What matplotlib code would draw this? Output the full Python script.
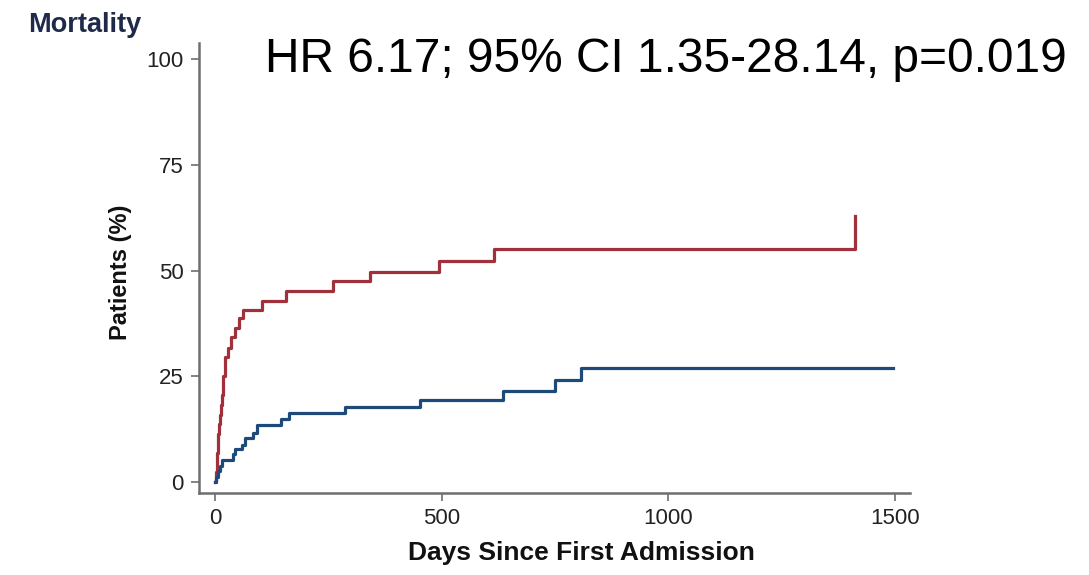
import matplotlib
matplotlib.use("Agg")
from matplotlib import pyplot as plt

# 数据（从图上读取的阶梯点）
red_days = [0, 2, 4, 5, 7, 8, 10, 12, 14, 16, 19, 22, 28, 35, 44, 53, 61, 103, 156, 261, 342, 495, 616, 1412]
red_pct = [0, 2.3, 4.5, 6.8, 9.1, 11.4, 13.6, 15.9, 18.2, 20.5, 25.0, 29.6, 31.8, 34.3, 36.4, 38.8, 40.7, 42.9, 45.1, 47.5, 49.7, 52.2, 55.0, 63.0]
red_end = 1412

blue_days = [0, 3, 8, 12, 15, 39, 44, 59, 66, 85, 92, 145, 163, 287, 452, 635, 749, 807]
blue_pct = [0, 1.3, 2.6, 3.9, 5.2, 6.6, 7.8, 8.7, 10.3, 11.5, 13.5, 14.8, 16.4, 17.8, 19.4, 21.5, 24.1, 26.9]
blue_end = 1495

x_ticks = [0, 500, 1000, 1500]
y_ticks = [0, 25, 50, 75, 100]

red_color = "#a0303a"
blue_color = "#1d4a78"
axis_color = "#6e6e6e"

plt.rcParams['font.family'] = ['Liberation Sans', 'DejaVu Sans']

fig = plt.figure(figsize=(10.89, 5.75), dpi=100)
ax = fig.add_axes([199 / 1089, 1 - 493 / 575, (910 - 199) / 1089, (493 - 43) / 575])

# 阶梯曲线
ax.step(red_days + [red_end], red_pct + [red_pct[-1]], where="post",
        color=red_color, linewidth=2.3)
ax.step(blue_days + [blue_end], blue_pct + [blue_pct[-1]], where="post",
        color=blue_color, linewidth=2.3)

ax.set_xlim(-35, 1533)
ax.set_ylim(-2.6, 103.8)
ax.set_xticks(x_ticks)
ax.set_yticks(y_ticks)
ax.tick_params(axis="both", direction="out", length=6, width=1.2,
               color=axis_color, labelsize=16, labelcolor="#222222", pad=5)

for side in ["top", "right"]:
    ax.spines[side].set_visible(False)
for side in ["left", "bottom"]:
    ax.spines[side].set_color(axis_color)
    ax.spines[side].set_linewidth(1.8)

# 轴标签
fig.text(581 / 1089, 1 - 553 / 575, "Days Since First Admission", ha="center", va="center",
         fontweight="bold", fontsize=19, color="#111111")
fig.text(120 / 1089, 1 - 272 / 575, "Patients (%)", ha="center", va="center", rotation=90,
         fontweight="bold", fontsize=17, color="#111111")

# 标题与注释
fig.text(28 / 1089, 1 - 25 / 575, "Mortality", ha="left", va="center",
         fontsize=19.5, fontweight="bold", color="#1f2a4a")
fig.text(265 / 1089, 1 - 60 / 575, "HR 6.17; 95% CI 1.35-28.14, p=0.019",
         ha="left", va="center", fontsize=34.5, color="black")

plt.savefig("out.png", dpi=100)
